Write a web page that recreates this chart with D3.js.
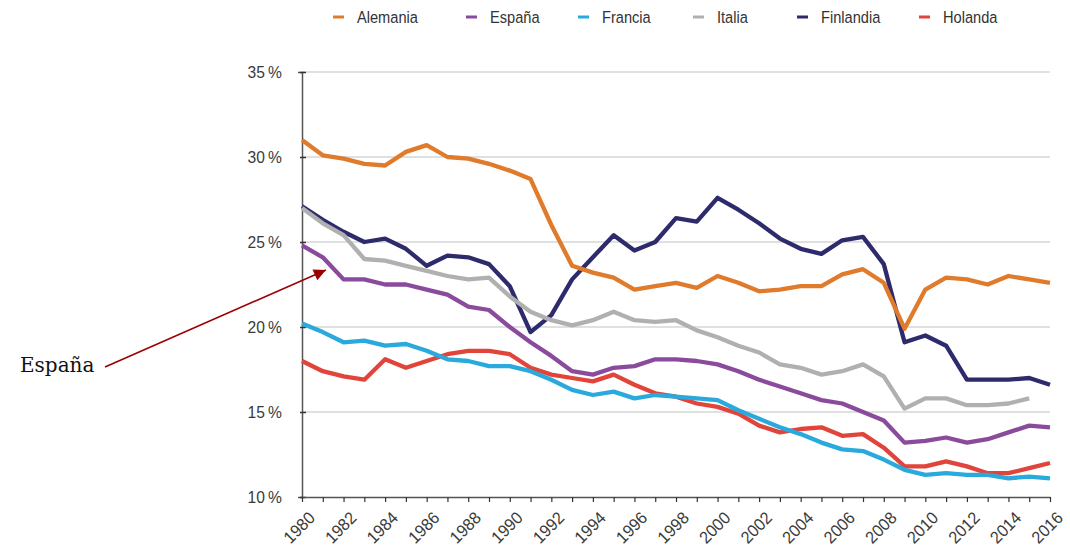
<!DOCTYPE html>
<html>
<head>
<meta charset="utf-8">
<script src="https://cdn.jsdelivr.net/npm/d3@7"></script>
<style>
  body { margin: 0; background: #fff; }
  svg { display: block; }
  .tick text { font-family: "Liberation Sans", sans-serif; fill: #3a3a3a; }
</style>
</head>
<body>
<svg id="chart" width="1070" height="549"></svg>
<script>
// años 1980..2016
var years = d3.range(1980, 2017);

var alemania = [31.0,30.1,29.9,29.6,29.5,30.3,30.7,30.0,29.9,29.6,
                29.2,28.7,26.0,23.6,23.2,22.9,22.2,22.4,22.6,22.3,
                23.0,22.6,22.1,22.2,22.4,22.4,23.1,23.4,22.6,19.9,
                22.2,22.9,22.8,22.5,23.0,22.8,22.6];
var espana   = [24.8,24.1,22.8,22.8,22.5,22.5,22.2,21.9,21.2,21.0,
                20.0,19.1,18.3,17.4,17.2,17.6,17.7,18.1,18.1,18.0,
                17.8,17.4,16.9,16.5,16.1,15.7,15.5,15.0,14.5,13.2,
                13.3,13.5,13.2,13.4,13.8,14.2,14.1];
var francia  = [20.2,19.7,19.1,19.2,18.9,19.0,18.6,18.1,18.0,17.7,
                17.7,17.4,16.9,16.3,16.0,16.2,15.8,16.0,15.9,15.8,
                15.7,15.1,14.6,14.1,13.7,13.2,12.8,12.7,12.2,11.6,
                11.3,11.4,11.3,11.3,11.1,11.2,11.1];
var italia   = [27.0,26.1,25.4,24.0,23.9,23.6,23.3,23.0,22.8,22.9,
                21.8,20.9,20.4,20.1,20.4,20.9,20.4,20.3,20.4,19.8,
                19.4,18.9,18.5,17.8,17.6,17.2,17.4,17.8,17.1,15.2,
                15.8,15.8,15.4,15.4,15.5,15.8,null];
var finlandia= [27.1,26.3,25.6,25.0,25.2,24.6,23.6,24.2,24.1,23.7,
                22.4,19.7,20.7,22.8,24.1,25.4,24.5,25.0,26.4,26.2,
                27.6,26.9,26.1,25.2,24.6,24.3,25.1,25.3,23.7,19.1,
                19.5,18.9,16.9,16.9,16.9,17.0,16.6];
var holanda  = [18.0,17.4,17.1,16.9,18.1,17.6,18.0,18.4,18.6,18.6,
                18.4,17.6,17.2,17.0,16.8,17.2,16.6,16.1,15.9,15.5,
                15.3,14.9,14.2,13.8,14.0,14.1,13.6,13.7,12.9,11.8,
                11.8,12.1,11.8,11.4,11.4,11.7,12.0];

var names  = ["Alemania","España","Francia","Italia","Finlandia","Holanda"];
var colors = ["#e07b2c","#8b4b9c","#2aaadc","#b0b0b0","#2d2b6b","#e0443a"];
var yTicks = [10,15,20,25,30,35];
var xTicks = d3.range(1980, 2017, 2);

var series = [alemania, espana, francia, italia, finlandia, holanda];
var drawOrder = [5, 4, 3, 0, 1, 2];

var svg = d3.select("#chart");
var x = d3.scaleLinear().domain([1980, 2016]).range([302, 1050]);
var y = d3.scaleLinear().domain([10, 35]).range([497, 72]);

// rejilla
svg.append("g").selectAll("line")
    .data(yTicks.slice(1))
    .enter().append("line")
    .attr("x1", x(1980)).attr("x2", x(2016))
    .attr("y1", function(d){ return y(d); })
    .attr("y2", function(d){ return y(d); })
    .style("stroke", "#d6d6d6").style("stroke-width", 1.6);

// eje y
var yAxis = svg.append("g")
    .attr("transform", "translate(" + x(1980) + ",0)")
    .call(d3.axisLeft(y).tickValues(yTicks).tickSize(4).tickPadding(0)
        .tickFormat(function(d){ return d + "\u2009%"; }));
yAxis.select(".domain").style("stroke", "#555").style("stroke-width", 1.5);
yAxis.selectAll(".tick line").attr("x2", 4).attr("x1", -2).style("stroke", "#333").style("stroke-width", 1.5);
yAxis.selectAll(".tick text")
    .attr("x", null)
    .attr("transform", "translate(-20,0) scale(0.92,1)")
    .style("font-size", "17px");

// eje x
var xAxis = svg.append("g")
    .attr("transform", "translate(0," + y(10) + ")")
    .call(d3.axisBottom(x).tickValues(years).tickSize(5).tickSizeOuter(0).tickFormat(""));
xAxis.select(".domain").style("stroke", "#555").style("stroke-width", 1.5);
xAxis.selectAll(".tick line").style("stroke", "#333").style("stroke-width", 1.2);

svg.append("g").selectAll("text")
    .data(xTicks)
    .enter().append("text")
    .attr("transform", function(d){ return "translate(" + (x(d) + 14) + "," + (y(10) + 22) + ") rotate(-45) scale(0.95,1)"; })
    .attr("text-anchor", "end")
    .style("font-family", '"Liberation Sans", sans-serif')
    .style("font-size", "17px")
    .style("fill", "#3a3a3a")
    .text(function(d){ return d; });

// líneas
var line = d3.line()
    .defined(function(d){ return d != null; })
    .x(function(d, i){ return x(years[i]); })
    .y(function(d){ return y(d); });

drawOrder.forEach(function(k){
    svg.append("path")
        .datum(series[k])
        .attr("d", line)
        .style("fill", "none")
        .style("stroke", colors[k])
        .style("stroke-width", 4.3)
        .style("stroke-linejoin", "round")
        .style("stroke-linecap", "butt");
});

// leyenda
var legendX = [333, 466, 578, 693, 797, 919];
var legend = svg.append("g");
names.forEach(function(n, i){
    legend.append("line")
        .attr("x1", legendX[i]).attr("x2", legendX[i] + 11)
        .attr("y1", 17).attr("y2", 17)
        .style("stroke", colors[i]).style("stroke-width", 3);
    legend.append("text")
        .attr("transform", "translate(" + (legendX[i] + 24) + ",23) scale(0.86,1)")
        .style("font-family", '"Liberation Sans", sans-serif')
        .style("font-size", "17px")
        .style("fill", "#333")
        .text(n);
});

// anotación
svg.append("defs").append("marker")
    .attr("id", "arrow")
    .attr("viewBox", "0 0 10 10")
    .attr("refX", 10).attr("refY", 5)
    .attr("markerWidth", 17).attr("markerHeight", 12)
    .attr("markerUnits", "userSpaceOnUse")
    .attr("orient", "auto")
    .append("path").attr("d", "M0,0 L10,5 L0,10 z")
    .style("fill", "#9b0000");

svg.append("line")
    .attr("x1", 105).attr("y1", 367)
    .attr("x2", x(1981.15)).attr("y2", y(23.35))
    .style("stroke", "#9b0000").style("stroke-width", 1.6)
    .attr("marker-end", "url(#arrow)");

svg.append("text")
    .attr("x", 20).attr("y", 372)
    .style("font-family", '"DejaVu Serif", serif')
    .style("font-size", "20px")
    .style("fill", "#111")
    .text("España");
</script>
</body>
</html>
